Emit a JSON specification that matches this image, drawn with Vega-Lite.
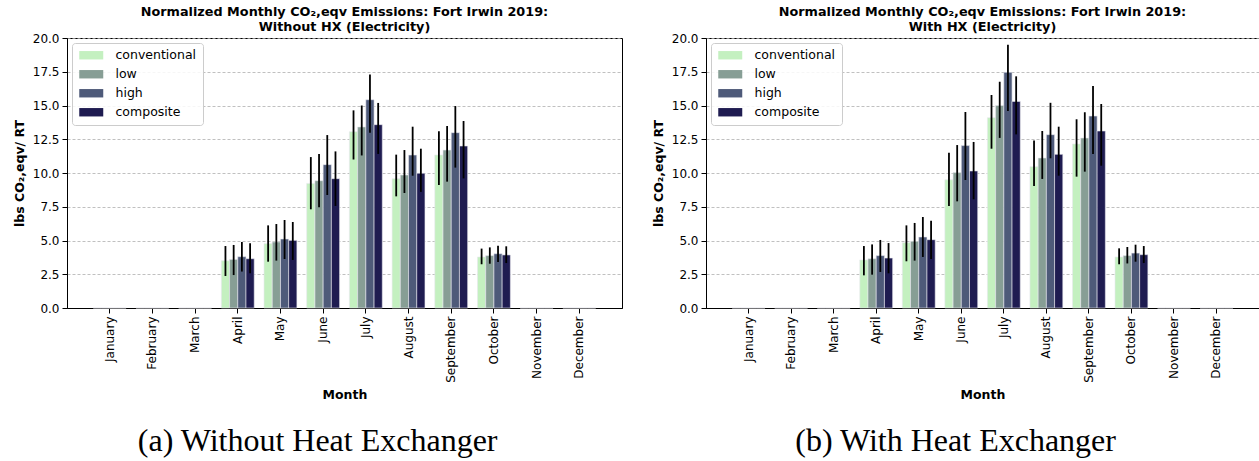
{
  "$schema": "https://vega.github.io/schema/vega-lite/v6.json",
  "padding": {"left": 12, "top": 5, "right": 0, "bottom": 0},
  "background": "white",
  "datasets": {
    "a": [
      {"month": "January", "series": "conventional", "value": 0, "lo": 0, "hi": 0},
      {"month": "January", "series": "low", "value": 0, "lo": 0, "hi": 0},
      {"month": "January", "series": "high", "value": 0, "lo": 0, "hi": 0},
      {"month": "January", "series": "composite", "value": 0, "lo": 0, "hi": 0},
      {"month": "February", "series": "conventional", "value": 0, "lo": 0, "hi": 0},
      {"month": "February", "series": "low", "value": 0, "lo": 0, "hi": 0},
      {"month": "February", "series": "high", "value": 0, "lo": 0, "hi": 0},
      {"month": "February", "series": "composite", "value": 0, "lo": 0, "hi": 0},
      {"month": "March", "series": "conventional", "value": 0, "lo": 0, "hi": 0},
      {"month": "March", "series": "low", "value": 0, "lo": 0, "hi": 0},
      {"month": "March", "series": "high", "value": 0, "lo": 0, "hi": 0},
      {"month": "March", "series": "composite", "value": 0, "lo": 0, "hi": 0},
      {"month": "April", "series": "conventional", "value": 3.5, "lo": 2.37, "hi": 4.59},
      {"month": "April", "series": "low", "value": 3.6, "lo": 2.44, "hi": 4.67},
      {"month": "April", "series": "high", "value": 3.8, "lo": 2.7, "hi": 4.89},
      {"month": "April", "series": "composite", "value": 3.65, "lo": 2.57, "hi": 4.79},
      {"month": "May", "series": "conventional", "value": 4.77, "lo": 3.43, "hi": 6.12},
      {"month": "May", "series": "low", "value": 4.89, "lo": 3.51, "hi": 6.22},
      {"month": "May", "series": "high", "value": 5.11, "lo": 3.63, "hi": 6.52},
      {"month": "May", "series": "composite", "value": 5.01, "lo": 3.56, "hi": 6.37},
      {"month": "June", "series": "conventional", "value": 9.23, "lo": 7.31, "hi": 11.18},
      {"month": "June", "series": "low", "value": 9.43, "lo": 7.46, "hi": 11.41},
      {"month": "June", "series": "high", "value": 10.62, "lo": 8.37, "hi": 12.81},
      {"month": "June", "series": "composite", "value": 9.58, "lo": 7.56, "hi": 11.6},
      {"month": "July", "series": "conventional", "value": 13.06, "lo": 11.0, "hi": 14.64},
      {"month": "July", "series": "low", "value": 13.41, "lo": 11.3, "hi": 15.0},
      {"month": "July", "series": "high", "value": 15.43, "lo": 12.99, "hi": 17.3},
      {"month": "July", "series": "composite", "value": 13.58, "lo": 11.41, "hi": 15.19},
      {"month": "August", "series": "conventional", "value": 9.58, "lo": 8.27, "hi": 11.36},
      {"month": "August", "series": "low", "value": 9.85, "lo": 8.52, "hi": 11.7},
      {"month": "August", "series": "high", "value": 11.33, "lo": 9.8, "hi": 13.43},
      {"month": "August", "series": "composite", "value": 9.98, "lo": 8.6, "hi": 11.8},
      {"month": "September", "series": "conventional", "value": 11.33, "lo": 9.11, "hi": 13.09},
      {"month": "September", "series": "low", "value": 11.7, "lo": 9.36, "hi": 13.48},
      {"month": "September", "series": "high", "value": 12.99, "lo": 10.4, "hi": 14.96},
      {"month": "September", "series": "composite", "value": 12.0, "lo": 9.6, "hi": 13.85},
      {"month": "October", "series": "conventional", "value": 3.78, "lo": 3.24, "hi": 4.4},
      {"month": "October", "series": "low", "value": 3.88, "lo": 3.28, "hi": 4.49},
      {"month": "October", "series": "high", "value": 4.02, "lo": 3.41, "hi": 4.62},
      {"month": "October", "series": "composite", "value": 3.93, "lo": 3.33, "hi": 4.57},
      {"month": "November", "series": "conventional", "value": 0, "lo": 0, "hi": 0},
      {"month": "November", "series": "low", "value": 0, "lo": 0, "hi": 0},
      {"month": "November", "series": "high", "value": 0, "lo": 0, "hi": 0},
      {"month": "November", "series": "composite", "value": 0, "lo": 0, "hi": 0},
      {"month": "December", "series": "conventional", "value": 0, "lo": 0, "hi": 0},
      {"month": "December", "series": "low", "value": 0, "lo": 0, "hi": 0},
      {"month": "December", "series": "high", "value": 0, "lo": 0, "hi": 0},
      {"month": "December", "series": "composite", "value": 0, "lo": 0, "hi": 0}
    ],
    "b": [
      {"month": "January", "series": "conventional", "value": 0, "lo": 0, "hi": 0},
      {"month": "January", "series": "low", "value": 0, "lo": 0, "hi": 0},
      {"month": "January", "series": "high", "value": 0, "lo": 0, "hi": 0},
      {"month": "January", "series": "composite", "value": 0, "lo": 0, "hi": 0},
      {"month": "February", "series": "conventional", "value": 0, "lo": 0, "hi": 0},
      {"month": "February", "series": "low", "value": 0, "lo": 0, "hi": 0},
      {"month": "February", "series": "high", "value": 0, "lo": 0, "hi": 0},
      {"month": "February", "series": "composite", "value": 0, "lo": 0, "hi": 0},
      {"month": "March", "series": "conventional", "value": 0, "lo": 0, "hi": 0},
      {"month": "March", "series": "low", "value": 0, "lo": 0, "hi": 0},
      {"month": "March", "series": "high", "value": 0, "lo": 0, "hi": 0},
      {"month": "March", "series": "composite", "value": 0, "lo": 0, "hi": 0},
      {"month": "April", "series": "conventional", "value": 3.56, "lo": 2.42, "hi": 4.59},
      {"month": "April", "series": "low", "value": 3.65, "lo": 2.47, "hi": 4.71},
      {"month": "April", "series": "high", "value": 3.88, "lo": 2.67, "hi": 5.04},
      {"month": "April", "series": "composite", "value": 3.7, "lo": 2.57, "hi": 4.81},
      {"month": "May", "series": "conventional", "value": 4.84, "lo": 3.46, "hi": 6.12},
      {"month": "May", "series": "low", "value": 4.94, "lo": 3.51, "hi": 6.3},
      {"month": "May", "series": "high", "value": 5.26, "lo": 3.78, "hi": 6.74},
      {"month": "May", "series": "composite", "value": 5.06, "lo": 3.63, "hi": 6.47},
      {"month": "June", "series": "conventional", "value": 9.5, "lo": 7.56, "hi": 11.5},
      {"month": "June", "series": "low", "value": 10.03, "lo": 7.9, "hi": 12.07},
      {"month": "June", "series": "high", "value": 12.03, "lo": 9.48, "hi": 14.52},
      {"month": "June", "series": "composite", "value": 10.15, "lo": 8.05, "hi": 12.3},
      {"month": "July", "series": "conventional", "value": 14.1, "lo": 11.8, "hi": 15.78},
      {"month": "July", "series": "low", "value": 15.0, "lo": 12.6, "hi": 16.76},
      {"month": "July", "series": "high", "value": 17.46, "lo": 14.6, "hi": 19.5},
      {"month": "July", "series": "composite", "value": 15.3, "lo": 12.86, "hi": 17.16},
      {"month": "August", "series": "conventional", "value": 10.47, "lo": 9.04, "hi": 12.4},
      {"month": "August", "series": "low", "value": 11.11, "lo": 9.56, "hi": 13.11},
      {"month": "August", "series": "high", "value": 12.84, "lo": 11.09, "hi": 15.2},
      {"month": "August", "series": "composite", "value": 11.38, "lo": 9.8, "hi": 13.43},
      {"month": "September", "series": "conventional", "value": 12.15, "lo": 9.73, "hi": 13.98},
      {"month": "September", "series": "low", "value": 12.59, "lo": 10.1, "hi": 14.5},
      {"month": "September", "series": "high", "value": 14.22, "lo": 11.41, "hi": 16.44},
      {"month": "September", "series": "composite", "value": 13.11, "lo": 10.54, "hi": 15.11},
      {"month": "October", "series": "conventional", "value": 3.78, "lo": 3.24, "hi": 4.42},
      {"month": "October", "series": "low", "value": 3.88, "lo": 3.3, "hi": 4.52},
      {"month": "October", "series": "high", "value": 4.07, "lo": 3.43, "hi": 4.69},
      {"month": "October", "series": "composite", "value": 3.95, "lo": 3.33, "hi": 4.59},
      {"month": "November", "series": "conventional", "value": 0, "lo": 0, "hi": 0},
      {"month": "November", "series": "low", "value": 0, "lo": 0, "hi": 0},
      {"month": "November", "series": "high", "value": 0, "lo": 0, "hi": 0},
      {"month": "November", "series": "composite", "value": 0, "lo": 0, "hi": 0},
      {"month": "December", "series": "conventional", "value": 0, "lo": 0, "hi": 0},
      {"month": "December", "series": "low", "value": 0, "lo": 0, "hi": 0},
      {"month": "December", "series": "high", "value": 0, "lo": 0, "hi": 0},
      {"month": "December", "series": "composite", "value": 0, "lo": 0, "hi": 0}
    ]
  },
  "spacing": 28,
  "hconcat": [
    {
      "title": {"text": "(a) Without Heat Exchanger", "orient": "bottom", "anchor": "middle", "frame": "bounds", "font": "Liberation Serif", "fontSize": 32, "fontWeight": "normal", "offset": 25, "color": "black"},
      "vconcat": [
        {
          "title": {"text": ["Normalized Monthly CO₂,eqv Emissions: Fort Irwin 2019:", "Without HX (Electricity)"], "anchor": "middle", "frame": "group", "font": "DejaVu Sans", "fontSize": 12.8, "fontWeight": "bold", "lineHeight": 15, "offset": -2, "color": "black"},
          "width": 555,
          "height": 270,
          "data": {"name": "a"},
          "encoding": {
            "x": {"field": "month", "type": "nominal", "sort": null,
                  "scale": {"domain": ["January","February","March","April","May","June","July","August","September","October","November","December"], "paddingInner": 0.23, "paddingOuter": 0.615},
                  "axis": {"title": "Month"}},
            "xOffset": {"field": "series", "type": "nominal", "scale": {"domain": ["conventional","low","high","composite"], "paddingInner": 0, "paddingOuter": 0}},
            "y": {"field": "value", "type": "quantitative", "scale": {"domain": [0, 20], "nice": false},
                  "axis": {"title": "lbs CO₂,eqv/ RT", "values": [0, 2.5, 5, 7.5, 10, 12.5, 15, 17.5, 20], "format": ".1f", "grid": true, "labelOverlap": false}}
          },
          "layer": [
            {
              "mark": {"type": "bar", "stroke": "#e8e8ee", "strokeWidth": 0.6},
              "encoding": {
                "color": {"field": "series", "type": "nominal",
                          "scale": {"domain": ["conventional","low","high","composite"], "range": ["#c4f0c0", "#879e95", "#4e5a79", "#1f1c51"]},
                          "legend": {"title": null, "orient": "top-left", "offset": 5}}
              }
            },
            {
              "mark": {"type": "rule", "color": "black", "strokeWidth": 1.8},
              "encoding": {
                "y": {"field": "lo", "type": "quantitative"},
                "y2": {"field": "hi"}
              }
            }
          ]
        }
      ]
    },
    {
      "title": {"text": "(b) With Heat Exchanger", "orient": "bottom", "anchor": "middle", "frame": "bounds", "font": "Liberation Serif", "fontSize": 32, "fontWeight": "normal", "offset": 25, "color": "black"},
      "vconcat": [
        {
          "title": {"text": ["Normalized Monthly CO₂,eqv Emissions: Fort Irwin 2019:", "With HX (Electricity)"], "anchor": "middle", "frame": "group", "font": "DejaVu Sans", "fontSize": 12.8, "fontWeight": "bold", "lineHeight": 15, "offset": -2, "color": "black"},
          "width": 553,
          "height": 270,
          "data": {"name": "b"},
          "encoding": {
            "x": {"field": "month", "type": "nominal", "sort": null,
                  "scale": {"domain": ["January","February","March","April","May","June","July","August","September","October","November","December"], "paddingInner": 0.23, "paddingOuter": 0.615},
                  "axis": {"title": "Month"}},
            "xOffset": {"field": "series", "type": "nominal", "scale": {"domain": ["conventional","low","high","composite"], "paddingInner": 0, "paddingOuter": 0}},
            "y": {"field": "value", "type": "quantitative", "scale": {"domain": [0, 20], "nice": false},
                  "axis": {"title": "lbs CO₂,eqv/ RT", "values": [0, 2.5, 5, 7.5, 10, 12.5, 15, 17.5, 20], "format": ".1f", "grid": true, "labelOverlap": false}}
          },
          "layer": [
            {
              "mark": {"type": "bar", "stroke": "#e8e8ee", "strokeWidth": 0.6},
              "encoding": {
                "color": {"field": "series", "type": "nominal",
                          "scale": {"domain": ["conventional","low","high","composite"], "range": ["#c4f0c0", "#879e95", "#4e5a79", "#1f1c51"]},
                          "legend": {"title": null, "orient": "top-left", "offset": 5}}
              }
            },
            {
              "mark": {"type": "rule", "color": "black", "strokeWidth": 1.8},
              "encoding": {
                "y": {"field": "lo", "type": "quantitative"},
                "y2": {"field": "hi"}
              }
            }
          ]
        }
      ]
    }
  ],
  "resolve": {"scale": {"color": "independent"}},
  "config": {
    "font": "DejaVu Sans",
    "view": {"stroke": "black", "strokeWidth": 1},
    "axis": {
      "domainColor": "black", "tickColor": "black", "labelColor": "black", "titleColor": "black",
      "labelFont": "DejaVu Sans", "labelFontSize": 12, "titleFont": "DejaVu Sans", "titleFontSize": 12.5, "titleFontWeight": "bold",
      "tickSize": 5, "labelPadding": 3, "grid": false
    },
    "axisX": {"labelAngle": -90, "titlePadding": 6},
    "axisY": {"gridColor": "#b0b0b0", "gridDash": [3, 2], "gridWidth": 0.8, "titlePadding": 6},
    "legend": {
      "labelFont": "DejaVu Sans", "labelFontSize": 12.5, "labelColor": "black",
      "symbolType": "M-2,-0.7H2V0.7H-2Z", "symbolSize": 144, "symbolStrokeWidth": 0, "symbolOpacity": 1, "symbolOffset": 7,
      "labelOffset": 18, "rowPadding": 6, "padding": 6,
      "strokeColor": "#cccccc", "fillColor": "rgba(255,255,255,0.85)", "cornerRadius": 3
    }
  }
}
